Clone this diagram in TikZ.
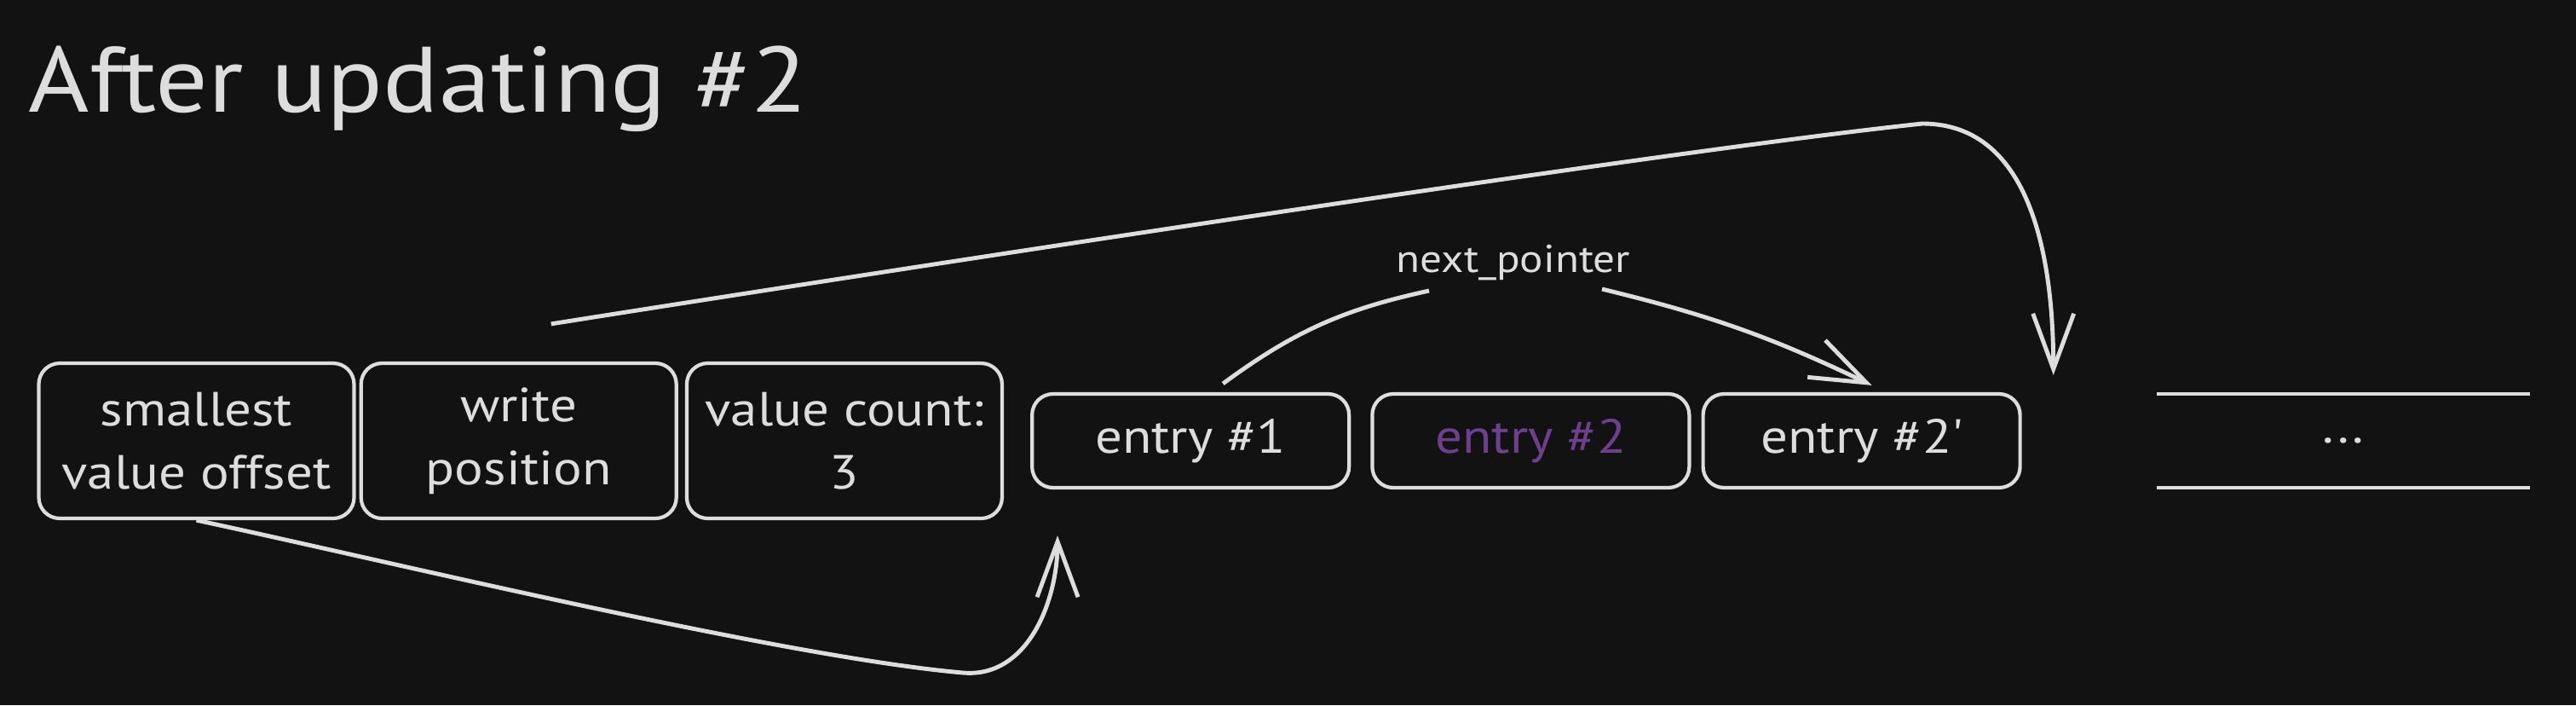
\documentclass[tikz,border=0pt]{standalone}
\usepackage{fontspec}
\setmainfont{PT Sans}[FakeStretch=1.12]
\usetikzlibrary{arrows.meta,positioning}
\definecolor{bg}{HTML}{121212}
\definecolor{ink}{HTML}{DDDDDD}
\definecolor{old}{HTML}{6E3F8F}

\begin{document}
\begin{tikzpicture}
\tikzset{edge/.style = {-{Straight Barb[length=6.5mm,width=4.8mm]}, line width=1.4pt, draw=ink}}
\tikzset{link/.style = {line width=1.4pt, draw=ink}}
\tikzset{cell/.style = {shape=rectangle, draw=ink, rounded corners=7pt, line width=1.2pt, text=ink, font=\fontsize{16}{21}\selectfont, align=center, inner sep=0pt}}
\tikzset{head/.style = {cell, minimum width=3.7cm, minimum height=1.82cm}}
\tikzset{slot/.style = {cell, minimum width=3.72cm, minimum height=1.1cm}}
\fill[bg] (0,0) rectangle (30.23,8.27);
\useasboundingbox (0,0) rectangle (30.23,8.27);
\node[anchor=base west, inner sep=0pt, text=ink, font=\fontsize{31}{37}\selectfont](title) at (0.33,6.96) {After updating \#2};
% header cells
\node[head](h0) at (2.305,3.1) {smallest\\value offset};
\node[head, right=0.04cm of h0](h1) {write\\position};
\node[head, right=0.08cm of h1](h2) {value count:\\3};
% entries
\node[slot, right=0.31cm of h2](e1) {entry \#1};
\node[slot, right=0.23cm of e1, text=old](e2) {entry \#2};
\node[slot, right=0.12cm of e2](e3) {entry \#2\textquotesingle};
\node[slot, draw=none, minimum width=4.34cm, minimum height=1.06cm, right=1.58cm of e3](more) {...};
\draw[ink, line width=1pt] (more.north west) -- (more.north east);
\draw[ink, line width=1pt] (more.south west) -- (more.south east);
\node[text=ink, font=\fontsize{13}{16}\selectfont](ptr) at (17.76,5.19) {next\_pointer};
% arrows
\coordinate (top) at (22.56,6.82);
\coordinate (wp) at ([shift={(0.37,0.2)}]e3.north east);
\coordinate (low) at (11.3,0.38);
\coordinate (offs) at ([shift={(0.32,-0.54)}]e1.south west);
\draw[edge] ([shift={(0.38,0.44)}]h1.north) to[out=9, in=186, looseness=0.5] (top) to[out=0, in=90] (wp);
\draw[edge] (h0.south) to[out=-12, in=175, looseness=0.6] (low) to[out=-5, in=-90] (offs);
\draw[link] ([shift={(0.38,0.1)}]e1.north) to[bend left=12] ([shift={(-0.99,-0.33)}]ptr.center);
\draw[edge] ([shift={(1.04,-0.31)}]ptr.center) to[bend left=6] ([shift={(0.12,0.08)}]e3.north);
\end{tikzpicture}
\end{document}
